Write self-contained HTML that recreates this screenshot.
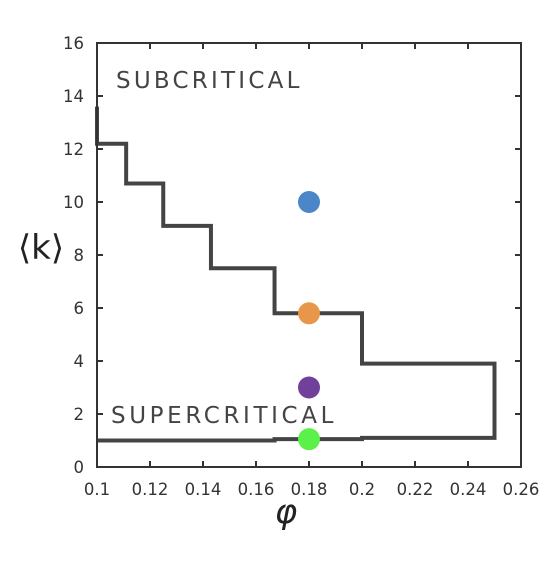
<!DOCTYPE html>
<html><head><meta charset="utf-8"><style>
body{margin:0;background:#fff;}
svg text{font-family:"DejaVu Sans","Liberation Sans",sans-serif;}
</style></head><body>
<svg id="chart" width="547" height="580" xmlns="http://www.w3.org/2000/svg">
<rect width="547" height="580" fill="#fff"/>
<g id="ticks"></g>
<path id="step" fill="none" stroke="#444" stroke-width="4" stroke-linejoin="miter"/>
<g id="pts"></g>
<rect x="97" y="43" width="424" height="424" fill="none" stroke="#333" stroke-width="2"/>
<text x="116" y="88" font-size="23" fill="#444" letter-spacing="2.6" textLength="186">SUBCRITICAL</text>
<text x="111" y="423" font-size="23" fill="#444" letter-spacing="2.6" textLength="225">SUPERCRITICAL</text>
<text x="41" y="259" font-size="34" fill="#222" text-anchor="middle">⟨k⟩</text>
<text x="286" y="523" font-size="34" fill="#222" text-anchor="middle" font-style="italic">φ</text>
</svg>
<script>
const xTicks=[0.1,0.12,0.14,0.16,0.18,0.2,0.22,0.24,0.26];
const xTickLabels=["0.1","0.12","0.14","0.16","0.18","0.2","0.22","0.24","0.26"];
const yTicks=[0,2,4,6,8,10,12,14,16];
const boundaryPhi=[0.1,0.1,0.111,0.111,0.125,0.125,0.143,0.143,0.167,0.167,0.2,0.2,0.25,0.25,0.2,0.2,0.167,0.167,0.1];
const boundaryK=[13.6,12.2,12.2,10.7,10.7,9.1,9.1,7.5,7.5,5.8,5.8,3.9,3.9,1.1,1.1,1.05,1.05,1.0,1.0];
const pointPhi=[0.18,0.18,0.18,0.18];
const pointK=[10,5.8,3,1.05];
const pointColors=["#4a86c8","#e8964a","#70409a","#5cf04a"];
const X=v=>97+(v-0.1)/0.16*424;
const Y=v=>467-v/16*424;
const ns="http://www.w3.org/2000/svg";
const tg=document.getElementById('ticks');
function mk(tag,at,parent){const e=document.createElementNS(ns,tag);for(const k in at)e.setAttribute(k,at[k]);parent.appendChild(e);return e;}
xTicks.forEach((v,i)=>{
  const x=X(v);
  let l=mk('line',{x1:x,x2:x,y1:467,y2:461,stroke:'#333','stroke-width':2},tg);
  
  
  l=mk('line',{x1:x,x2:x,y1:43,y2:49,stroke:'#333','stroke-width':2},tg);
  
  
  const t=mk('text',{x:x,y:495,'font-size':16.5,fill:'#333','text-anchor':'middle'},tg);
  t.textContent=xTickLabels[i];
  
  
});
yTicks.forEach(v=>{
  const y=Y(v);
  let l=mk('line',{x1:97,x2:103,y1:y,y2:y,stroke:'#333','stroke-width':2},tg);
  
  
  l=mk('line',{x1:515,x2:521,y1:y,y2:y,stroke:'#333','stroke-width':2},tg);
  
  
  const t=mk('text',{x:84,y:y+6,'font-size':16.5,fill:'#333','text-anchor':'end'},tg);
  t.textContent=String(v);
  
  
});
document.getElementById('step').setAttribute('d',boundaryPhi.map((p,i)=>(i?'L':'M')+X(p)+' '+Y(boundaryK[i])).join(' '));
const pg=document.getElementById('pts');
pointPhi.forEach((p,i)=>{
  const c=mk('circle',{cx:X(p),cy:Y(pointK[i]),r:11,fill:pointColors[i]},pg);
  
  
});
</script>
</body></html>
